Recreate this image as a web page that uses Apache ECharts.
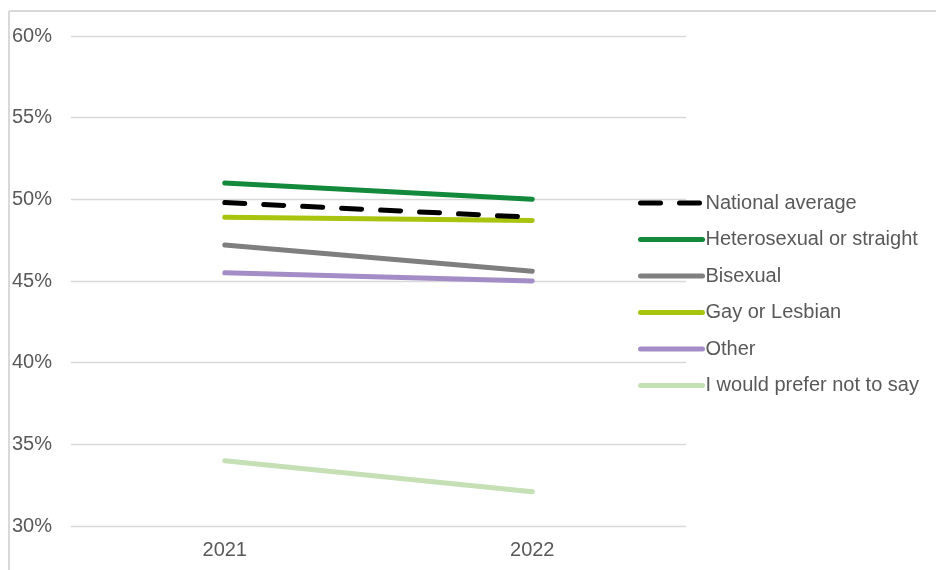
<!DOCTYPE html>
<html>
<head>
<meta charset="utf-8">
<script src="https://cdn.jsdelivr.net/npm/echarts@6/dist/echarts.min.js"></script>
<style>
  html, body { margin: 0; padding: 0; background: #ffffff; }
  #chart { width: 936px; height: 570px; }
</style>
</head>
<body>
<div id="chart"></div>
<script>
// Survey years on the x axis
const years = ['2021', '2022'];

// Share of respondents (%) per group and year
const nationalAverage = [49.8, 48.9];
const heterosexual = [51.0, 50.0];
const bisexual = [47.2, 45.6];
const gayOrLesbian = [48.9, 48.7];
const other = [45.5, 45.0];
const preferNotToSay = [34.0, 32.1];

// Value axis range and step (percent)
const yMin = 30;
const yMax = 60;
const yStep = 5;

const font = 'Liberation Sans, Arial, sans-serif';
const textGrey = '#595959';
const fontSize = 20;
const strokeWidth = 5;

function lineSeries(name, data, color, extra) {
  return Object.assign({
    name: name,
    type: 'line',
    data: data,
    symbol: 'none',
    silent: true,
    lineStyle: { color: color, width: strokeWidth, cap: 'round' },
    itemStyle: { color: color }
  }, extra || {});
}

const chart = echarts.init(document.getElementById('chart'), null, { renderer: 'canvas' });

chart.setOption({
  backgroundColor: '#ffffff',
  animation: false,
  grid: { left: 71, right: 250, top: 36, bottom: 44, containLabel: false },
  xAxis: {
    type: 'category',
    data: years,
    boundaryGap: true,
    axisLine: { show: false },
    axisTick: { show: false },
    axisLabel: { color: textGrey, fontFamily: font, fontSize: fontSize, margin: 14 }
  },
  yAxis: {
    type: 'value',
    min: yMin,
    max: yMax,
    interval: yStep,
    axisLine: { show: false },
    axisTick: { show: false },
    splitLine: { lineStyle: { color: '#d9d9d9', width: 1.3 } },
    axisLabel: {
      color: textGrey, fontFamily: font, fontSize: fontSize,
      formatter: v => v + '%',
      align: 'left',
      margin: 59
    }
  },
  legend: {
    orient: 'vertical',
    left: 638,
    top: 193,
    padding: 0,
    itemWidth: 62,
    itemHeight: 20,
    itemGap: 16.5,
    // line-only keys: hide the marker, keep the series stroke
    itemStyle: { opacity: 0 },
    lineStyle: { width: strokeWidth },
    textStyle: { color: textGrey, fontFamily: font, fontSize: fontSize, padding: [0, 0, 0, -2], lineHeight: 20 },
    data: ['National average', 'Heterosexual or straight', 'Bisexual', 'Gay or Lesbian', 'Other', 'I would prefer not to say']
  },
  graphic: [
    // frame lines along the top and left edges
    { type: 'line', shape: { x1: 9, y1: 11, x2: 936, y2: 11 }, style: { stroke: '#d9d9d9', lineWidth: 2 }, silent: true },
    { type: 'line', shape: { x1: 9, y1: 11, x2: 9, y2: 570 }, style: { stroke: '#d9d9d9', lineWidth: 2 }, silent: true }
  ],
  series: [
    lineSeries('I would prefer not to say', preferNotToSay, '#c5e0b4'),
    lineSeries('Other', other, '#a48dc6'),
    lineSeries('Bisexual', bisexual, '#7f7f7f'),
    lineSeries('Gay or Lesbian', gayOrLesbian, '#a9c40f'),
    lineSeries('Heterosexual or straight', heterosexual, '#13893b'),
    lineSeries('National average', nationalAverage, '#000000', {
      lineStyle: { color: '#000000', width: strokeWidth, type: [20, 19], cap: 'round' }
    })
  ]
});
</script>
</body>
</html>
